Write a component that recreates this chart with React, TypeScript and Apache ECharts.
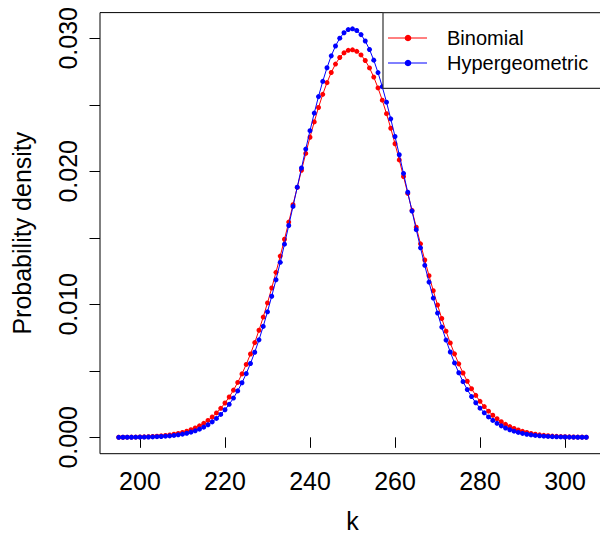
import React, { useEffect, useRef } from "react";
import * as echarts from "echarts";

const K = [
  195, 196, 197, 198, 199, 200, 201, 202, 203, 204, 205, 206, 207, 208, 209, 210,
  211, 212, 213, 214, 215, 216, 217, 218, 219, 220, 221, 222, 223, 224, 225, 226,
  227, 228, 229, 230, 231, 232, 233, 234, 235, 236, 237, 238, 239, 240, 241, 242,
  243, 244, 245, 246, 247, 248, 249, 250, 251, 252, 253, 254, 255, 256, 257, 258,
  259, 260, 261, 262, 263, 264, 265, 266, 267, 268, 269, 270, 271, 272, 273, 274,
  275, 276, 277, 278, 279, 280, 281, 282, 283, 284, 285, 286, 287, 288, 289, 290,
  291, 292, 293, 294, 295, 296, 297, 298, 299, 300, 301, 302, 303, 304, 305,
];

const BINOMIAL = [
  0.0000064, 0.0000088, 0.000012, 0.000016, 0.000022, 0.000029, 0.000039, 0.000051, 0.000067, 0.000086,
  0.000112, 0.000144, 0.000183, 0.000233, 0.000293, 0.000369, 0.00046, 0.000571, 0.000703, 0.000862,
  0.00105, 0.001272, 0.001531, 0.001833, 0.00218, 0.00258, 0.003035, 0.003549, 0.004127, 0.004769,
  0.005483, 0.006266, 0.007122, 0.008048, 0.009042, 0.010104, 0.011227, 0.012404, 0.013629, 0.014892,
  0.016181, 0.017485, 0.018789, 0.02008, 0.021342, 0.022559, 0.023715, 0.024795, 0.025783, 0.026665,
  0.027428, 0.028062, 0.028555, 0.028901, 0.029095,
  0.029134,
  0.029017, 0.028749, 0.028331, 0.027772, 0.027082, 0.026269, 0.025347, 0.024331, 0.023233, 0.022071,
  0.020856, 0.019608, 0.018339, 0.017065, 0.015797, 0.01455, 0.013333, 0.012154, 0.011025, 0.00995,
  0.008934, 0.007982, 0.007096, 0.006276, 0.005523, 0.004837, 0.004215, 0.003655, 0.003153, 0.002706,
  0.002312, 0.001965, 0.001663, 0.0014, 0.001172, 0.000976, 0.000811, 0.000669, 0.00055, 0.000449,
  0.000365, 0.000295, 0.000237, 0.00019, 0.000152, 0.00012, 0.000095, 0.000074, 0.000058, 0.000045,
  0.000035, 0.000027, 0.00002, 0.000016, 0.000012,
];

const HYPERGEOMETRIC = [
  0.0000029, 0.0000041, 0.0000058, 0.000008, 0.000011, 0.000015, 0.00002, 0.000027, 0.000036, 0.000048,
  0.000064, 0.000085, 0.000111, 0.000145, 0.000188, 0.000241, 0.000308, 0.00039, 0.000492, 0.000616,
  0.000767, 0.000948, 0.001164, 0.001422, 0.001723, 0.002075, 0.002484, 0.002954, 0.003492, 0.004101,
  0.004788, 0.005551, 0.006398, 0.007328, 0.008341, 0.009436, 0.010606, 0.011849, 0.013158, 0.014519,
  0.015924, 0.017357, 0.018804, 0.020248, 0.021671, 0.023052, 0.024373, 0.025615, 0.026758, 0.027784,
  0.028678, 0.029421, 0.030005, 0.030418, 0.030654,
  0.030709,
  0.030582, 0.030276, 0.029797, 0.029153, 0.028356, 0.02742, 0.02636, 0.025195, 0.023941, 0.022618,
  0.021245, 0.01984, 0.018422, 0.017007, 0.015612, 0.014249, 0.012932, 0.011669, 0.01047, 0.009342,
  0.008287, 0.007312, 0.006414, 0.005595, 0.004854, 0.004187, 0.003592, 0.003064, 0.0026, 0.002193,
  0.001841, 0.001536, 0.001274, 0.001052, 0.000863, 0.000704, 0.000572, 0.000462, 0.00037, 0.000295,
  0.000234, 0.000185, 0.000145, 0.000114, 0.000088, 0.000068, 0.000052, 0.00004, 0.00003, 0.000023,
  0.000017, 0.000013, 0.0000096, 0.0000071, 0.0000052,
];

const X_TICKS = [200, 220, 240, 260, 280, 300];
const Y_TICKS = [0, 0.005, 0.01, 0.015, 0.02, 0.025, 0.03];
const Y_LABELS = [0, 0.01, 0.02, 0.03];

const SERIES_NAMES = ["Binomial", "Hypergeometric"];
const COLORS = ["#ff0000", "#0000ff"];

const FONT = "'Liberation Sans', Arial, Helvetica, sans-serif";

export default function App() {
  const ref = useRef<HTMLDivElement>(null);

  useEffect(() => {
    if (!ref.current) return;
    const chart = echarts.init(ref.current, null, { renderer: "svg" });
    const seriesData = [BINOMIAL, HYPERGEOMETRIC];

    const legendItems: any[] = [];
    SERIES_NAMES.forEach((name, i) => {
      const cy = 38 + i * 25;
      legendItems.push(
        {
          type: "line",
          shape: { x1: 388, y1: cy, x2: 427, y2: cy },
          style: { stroke: COLORS[i], lineWidth: 1 },
        },
        {
          type: "circle",
          shape: { cx: 408, cy, r: 3.3 },
          style: { fill: COLORS[i] },
        },
        {
          type: "text",
          x: 447,
          y: cy,
          style: {
            text: name,
            fill: "#000",
            font: `20px ${FONT}`,
            verticalAlign: "middle",
            align: "left",
          },
        }
      );
    });

    chart.setOption({
      animation: false,
      backgroundColor: "#fff",
      grid: {
        left: 100,
        right: -5,
        top: 12.6,
        bottom: 81.3,
        containLabel: false,
        outerBoundsMode: "none",
        show: true,
        borderColor: "#000",
        borderWidth: 1,
        backgroundColor: "transparent",
      },
      xAxis: {
        type: "value",
        min: 190.6,
        max: 309.4,
        name: "k",
        nameLocation: "middle",
        nameGap: 57,
        nameTextStyle: { fontSize: 25, lineHeight: 21, color: "#000", fontFamily: FONT },
        axisLine: { show: false },
        splitLine: { show: false },
        axisTick: {
          show: true,
          customValues: X_TICKS,
          length: 10.5,
          lineStyle: { color: "#000", width: 1 },
        },
        axisLabel: {
          customValues: X_TICKS,
          fontSize: 25,
          color: "#000",
          fontFamily: FONT,
          margin: 15,
        },
      },
      yAxis: {
        type: "value",
        min: -0.00123,
        max: 0.03193,
        name: "Probability density",
        nameLocation: "middle",
        nameGap: 66,
        nameRotate: 90,
        nameTextStyle: { fontSize: 25, color: "#000", fontFamily: FONT },
        axisLine: { show: false },
        splitLine: { show: false },
        axisTick: {
          show: true,
          customValues: Y_TICKS,
          length: 10.5,
          lineStyle: { color: "#000", width: 1 },
        },
        axisLabel: {
          customValues: Y_LABELS,
          rotate: 90,
          fontSize: 25,
          color: "#000",
          fontFamily: FONT,
          margin: 20,
          formatter: (v: number) => v.toFixed(3),
        },
      },
      series: SERIES_NAMES.map((name, i) => ({
        name,
        type: "line",
        data: K.map((k, j) => [k, seriesData[i][j]]),
        symbol: "circle",
        symbolSize: 5,
        showSymbol: true,
        showAllSymbol: true,
        clip: false,
        lineStyle: { color: COLORS[i], width: 1 },
        itemStyle: { color: COLORS[i] },
        z: 2 + i,
      })),
      graphic: [
        {
          type: "rect",
          shape: { x: 383, y: 12.6, width: 230, height: 75.7 },
          style: { fill: "#fff", stroke: "#333", lineWidth: 1.2 },
          z: 10,
        },
        ...legendItems.map((it) => ({ ...it, z: 11 })),
      ],
    });

    return () => chart.dispose();
  }, []);

  return (
    <div
      ref={ref}
      style={{ position: "fixed", left: 0, top: 0, width: 600, height: 535 }}
    />
  );
}
